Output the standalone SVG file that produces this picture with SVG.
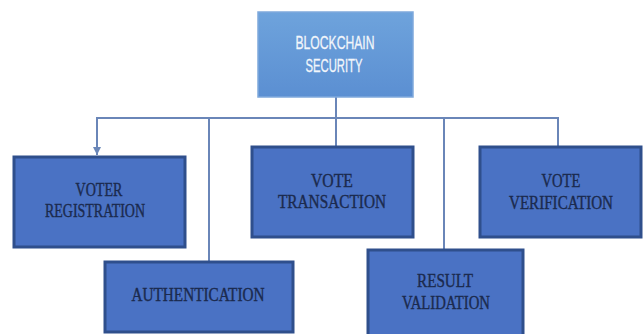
<svg xmlns="http://www.w3.org/2000/svg" width="644" height="334" viewBox="0 0 644 334">
<defs>
<linearGradient id="topg" x1="0" y1="0" x2="0" y2="1">
<stop offset="0" stop-color="#6ea3dc"/>
<stop offset="1" stop-color="#5b8fd2"/>
</linearGradient>
<marker id="arr" markerWidth="8" markerHeight="8" refX="8" refY="4" orient="auto" markerUnits="userSpaceOnUse" viewBox="0 0 8 8">
<path d="M0,0 L8,4 L0,8 Z" fill="#6a86b8"/>
</marker>
<style>
.box{fill:#4a72c4;stroke:#2f4f8c;stroke-width:3}
.lbl{font-family:"Liberation Serif","Times New Roman",serif;font-size:19.5px;fill:#1b2a4e;stroke:#1b2a4e;stroke-width:0.4;text-anchor:middle}
.top{font-family:"Liberation Sans",Arial,sans-serif;font-size:19px;fill:#f2f6fb;stroke:#f2f6fb;stroke-width:0.3;text-anchor:middle}
.ln{stroke:#6a86b8;stroke-width:2;fill:none}
</style>
</defs>
<rect width="644" height="334" fill="#ffffff"/>
<g id="connectors">
<line class="ln" x1="336" y1="97" x2="336" y2="147"/>
<line class="ln" x1="97" y1="118" x2="558" y2="118"/>
<path class="ln" d="M97,117 L97,155" marker-end="url(#arr)"/>
<line class="ln" x1="209" y1="118" x2="209" y2="262"/>
<line class="ln" x1="444" y1="118" x2="444" y2="250"/>
<line class="ln" x1="558" y1="117" x2="558" y2="147"/>
</g>
<g id="blockchain-security">
<rect x="258" y="12" width="155" height="85" fill="url(#topg)" stroke="#7fa9dc" stroke-width="1.5"/>
<text class="top" x="335" y="49" textLength="79" lengthAdjust="spacingAndGlyphs">BLOCKCHAIN</text>
<text class="top" x="334" y="72" textLength="57" lengthAdjust="spacingAndGlyphs">SECURITY</text>
</g>
<g id="voter-registration">
<rect class="box" x="14" y="157" width="171" height="90"/>
<text class="lbl" x="99" y="196" textLength="47" lengthAdjust="spacingAndGlyphs">VOTER</text>
<text class="lbl" x="95" y="217" textLength="100" lengthAdjust="spacingAndGlyphs">REGISTRATION</text>
</g>
<g id="authentication">
<rect class="box" x="105" y="262" width="188" height="70"/>
<text class="lbl" x="198" y="301" textLength="133" lengthAdjust="spacingAndGlyphs">AUTHENTICATION</text>
</g>
<g id="vote-transaction">
<rect class="box" x="252" y="147" width="161" height="90"/>
<text class="lbl" x="332" y="187" textLength="42" lengthAdjust="spacingAndGlyphs">VOTE</text>
<text class="lbl" x="332" y="208" textLength="108" lengthAdjust="spacingAndGlyphs">TRANSACTION</text>
</g>
<g id="vote-verification">
<rect class="box" x="480" y="147" width="161" height="90"/>
<text class="lbl" x="561" y="187" textLength="39" lengthAdjust="spacingAndGlyphs">VOTE</text>
<text class="lbl" x="561" y="209" textLength="104" lengthAdjust="spacingAndGlyphs">VERIFICATION</text>
</g>
<g id="result-validation">
<rect class="box" x="368" y="250" width="155" height="90"/>
<text class="lbl" x="445" y="287" textLength="56" lengthAdjust="spacingAndGlyphs">RESULT</text>
<text class="lbl" x="446" y="309" textLength="88" lengthAdjust="spacingAndGlyphs">VALIDATION</text>
</g>
</svg>
